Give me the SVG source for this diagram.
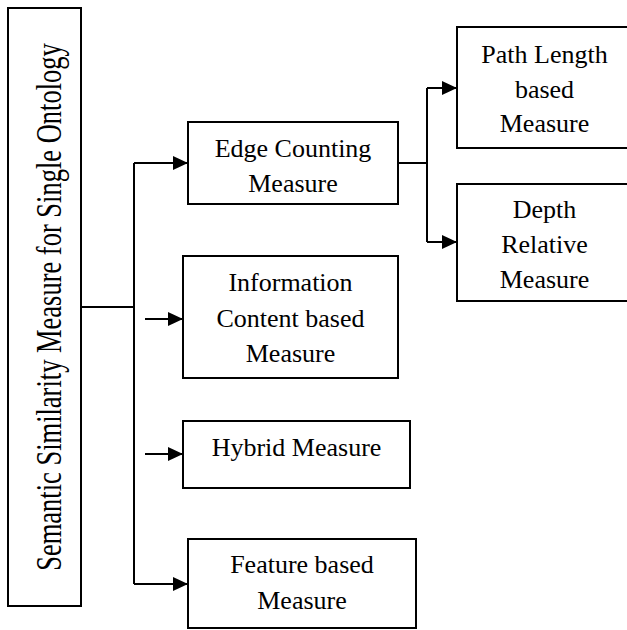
<svg xmlns="http://www.w3.org/2000/svg" width="627" height="630" viewBox="0 0 627 630">
<defs>
<style>
.box{fill:#fff;stroke:#000;stroke-width:2}
.t{font-family:"Liberation Serif","Times New Roman",serif;font-size:26px;fill:#000;text-anchor:middle}
.c{fill:none;stroke:#000;stroke-width:2}
</style>
<marker id="ah" markerUnits="userSpaceOnUse" markerWidth="16" markerHeight="14" refX="15" refY="7" orient="auto">
<path d="M0,0 L15,7 L0,14 Z" fill="#000"/>
</marker>
</defs>
<rect width="627" height="630" fill="#fff"/>
<g id="connectors">
<path class="c" d="M81,307 H134"/>
<path class="c" d="M134,163 V584"/>
<path class="c" d="M134,163 H188" marker-end="url(#ah)"/>
<path class="c" d="M134,584 H188" marker-end="url(#ah)"/>
<path class="c" d="M145,319 H183" marker-end="url(#ah)"/>
<path class="c" d="M145,454 H183" marker-end="url(#ah)"/>
<path class="c" d="M398,163 H427"/>
<path class="c" d="M427,88 V242"/>
<path class="c" d="M427,88 H457" marker-end="url(#ah)"/>
<path class="c" d="M427,242 H457" marker-end="url(#ah)"/>
</g>
<g id="root">
<rect class="box" x="8" y="8" width="73" height="598"/>
<text class="t" style="font-size:26.5px" transform="translate(61,307) rotate(-90) scale(1,1.35)" x="0" y="0">Semantic Similarity Measure for Single Ontology</text>
</g>
<g id="edge">
<rect class="box" x="188" y="122" width="210" height="82"/>
<text class="t" x="293" y="157">Edge Counting</text>
<text class="t" x="293" y="192">Measure</text>
</g>
<g id="info">
<rect class="box" x="183" y="256" width="215" height="122"/>
<text class="t" x="290.5" y="291">Information</text>
<text class="t" x="290.5" y="327">Content based</text>
<text class="t" x="290.5" y="362">Measure</text>
</g>
<g id="hybrid">
<rect class="box" x="183" y="421" width="227" height="67"/>
<text class="t" x="296.5" y="456">Hybrid Measure</text>
</g>
<g id="feature">
<rect class="box" x="188" y="539" width="228" height="89"/>
<text class="t" x="302" y="573">Feature based</text>
<text class="t" x="302" y="609">Measure</text>
</g>
<g id="path">
<rect class="box" x="457" y="27" width="180" height="121"/>
<text class="t" x="544.5" y="63">Path Length</text>
<text class="t" x="544.5" y="98">based</text>
<text class="t" x="544.5" y="132">Measure</text>
</g>
<g id="depth">
<rect class="box" x="457" y="184" width="180" height="117"/>
<text class="t" x="544.5" y="218">Depth</text>
<text class="t" x="544.5" y="253">Relative</text>
<text class="t" x="544.5" y="288">Measure</text>
</g>
</svg>
